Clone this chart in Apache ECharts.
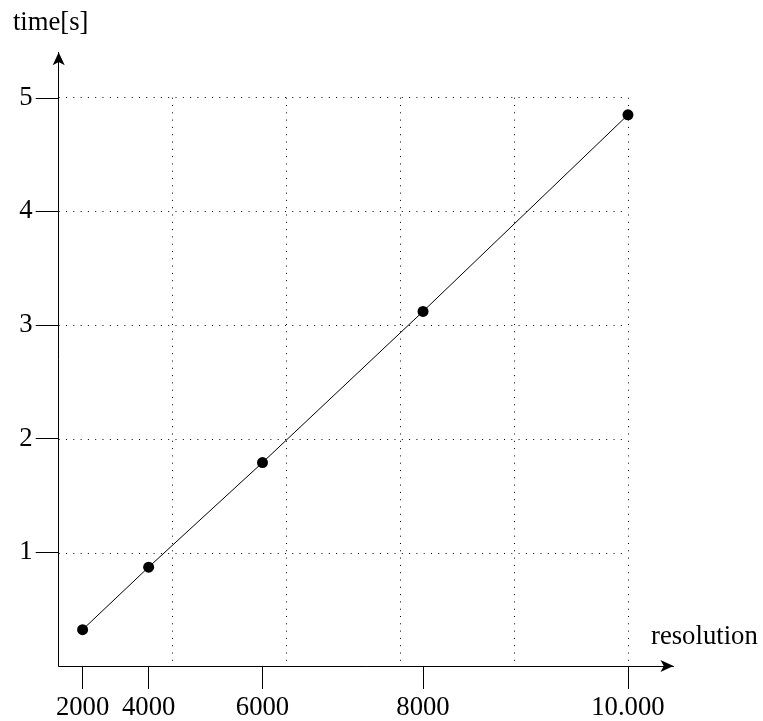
<!DOCTYPE html>
<html>
<head>
<meta charset="utf-8">
<script src="https://cdn.jsdelivr.net/npm/echarts@6/dist/echarts.min.js"></script>
<style>
  html, body { margin: 0; padding: 0; background: #fff; }
  #chart { width: 763px; height: 721px; }
</style>
</head>
<body>
<div id="chart"></div>
<script>
// resolution labels and where they sit along the drawn x axis (grid units, axis is not linear)
const resolutions = ["2000", "4000", "6000", "8000", "10.000"];
const xPos = [0.21, 0.79, 1.79, 3.2, 5.0];
// measured time in seconds
const times = [0.32, 0.87, 1.79, 3.12, 4.85];
const yTicks = [1, 2, 3, 4, 5];

const font = "Liberation Serif";
const fsize = 26.7;
const black = "#000";

var dom = document.getElementById("chart");
var myChart = echarts.init(dom, null, { renderer: "canvas" });

var option = {
  animation: false,
  backgroundColor: "#fff",
  grid: [
    // main axes (extend a bit past 5 for the arrows)
    { left: 58.7, right: 89.5, top: 52.3, bottom: 54.2 },
    // dotted grid square 0..5
    { left: 58.7, width: 569.3, top: 97.7, height: 569.1 },
  ],
  xAxis: [
    {
      type: "value",
      gridIndex: 0,
      min: 0,
      max: 5.4,
      name: "resolution",
      nameLocation: "end",
      nameGap: -22.5,
      nameTextStyle: {
        fontFamily: font,
        fontSize: fsize,
        color: black,
        align: "left",
        verticalAlign: "bottom",
        padding: [0, 0, 16, 0],
      },
      axisLine: {
        show: true,
        symbol: ["none", "arrow"],
        symbolSize: [9, 13],
        lineStyle: { color: black, width: 1 },
      },
      axisTick: {
        show: true,
        length: 23,
        customValues: xPos,
        lineStyle: { color: black, width: 1 },
      },
      axisLabel: {
        customValues: xPos,
        margin: 28,
        fontFamily: font,
        fontSize: fsize,
        color: black,
        formatter: (v) => {
          const i = xPos.findIndex((p) => Math.abs(p - v) < 1e-6);
          return i >= 0 ? resolutions[i] : "";
        },
      },
      splitLine: { show: false },
    },
    {
      type: "value",
      gridIndex: 1,
      min: 0,
      max: 5,
      interval: 1,
      axisLine: { show: false },
      axisTick: { show: false },
      axisLabel: { show: false },
      splitLine: {
        show: true,
        showMinLine: false,
        lineStyle: { color: black, width: 1, type: [1, 6.3] },
      },
    },
  ],
  yAxis: [
    {
      type: "value",
      gridIndex: 0,
      min: 0,
      max: 5.4,
      name: "time[s]",
      nameLocation: "end",
      nameGap: 16,
      nameTextStyle: {
        fontFamily: font,
        fontSize: fsize,
        color: black,
        padding: [0, 16, 0, 0],
      },
      axisLine: {
        show: true,
        symbol: ["none", "arrow"],
        symbolSize: [9, 13],
        lineStyle: { color: black, width: 1 },
      },
      axisTick: {
        show: true,
        length: 23,
        customValues: yTicks,
        lineStyle: { color: black, width: 1 },
      },
      axisLabel: {
        customValues: yTicks,
        margin: 26,
        fontFamily: font,
        fontSize: fsize,
        color: black,
      },
      splitLine: { show: false },
    },
    {
      type: "value",
      gridIndex: 1,
      min: 0,
      max: 5,
      interval: 1,
      axisLine: { show: false },
      axisTick: { show: false },
      axisLabel: { show: false },
      splitLine: {
        show: true,
        showMinLine: false,
        lineStyle: { color: black, width: 1, type: [1, 6.3] },
      },
    },
  ],
  series: [
    {
      type: "line",
      xAxisIndex: 0,
      yAxisIndex: 0,
      data: xPos.map((x, i) => [x, times[i]]),
      symbol: "circle",
      symbolSize: 11,
      itemStyle: { color: black },
      lineStyle: { color: black, width: 1 },
      z: 5,
    },
  ],
};

myChart.setOption(option);
window.addEventListener("resize", myChart.resize);
</script>
</body>
</html>
